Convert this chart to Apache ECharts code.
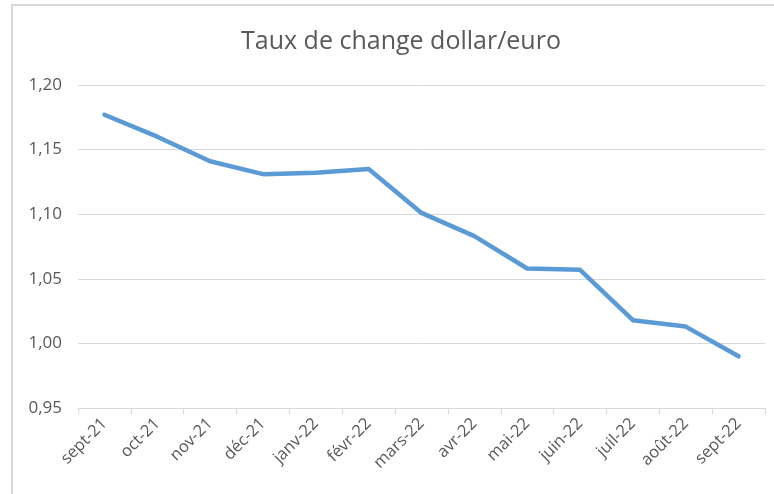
<!DOCTYPE html>
<html>
<head>
<meta charset="utf-8">
<script src="https://cdn.jsdelivr.net/npm/echarts@6/dist/echarts.min.js"></script>
<style>
  html, body { margin: 0; padding: 0; background: #fff; }
  #chart { width: 774px; height: 494px; }
  .frame { position: absolute; left: 11px; top: 4px; right: 0; bottom: 0; border-left: 2px solid #d9d9d9; border-top: 2px solid #d9d9d9; pointer-events: none; }
</style>
</head>
<body>
<div id="chart"></div>
<div class="frame"></div>
<script>
// mois (sept 2021 -> sept 2022)
const months = ['sept-21', 'oct-21', 'nov-21', 'déc-21', 'janv-22', 'févr-22', 'mars-22',
                'avr-22', 'mai-22', 'juin-22', 'juil-22', 'août-22', 'sept-22'];
// taux de change
const rates = [1.177, 1.160, 1.141, 1.131, 1.132, 1.135, 1.101, 1.083, 1.058, 1.057, 1.018, 1.013, 0.990];

const myChart = echarts.init(document.getElementById('chart'));
const textColor = '#595959';

myChart.setOption({
    animation: false,
    title: {
        text: 'Taux de change dollar/euro',
        left: 396,
        top: 24,
        textAlign: 'center',
        textStyle: { fontFamily: 'Open Sans', fontSize: 25, fontWeight: 'normal', color: textColor }
    },
    grid: { left: 78, right: 9, top: 85, bottom: 86 },
    xAxis: {
        type: 'category',
        data: months,
        boundaryGap: true,
        axisLine: { lineStyle: { color: '#d9d9d9', width: 1 } },
        axisTick: { show: true, length: 6, lineStyle: { color: '#d9d9d9' } },
        axisLabel: { rotate: 45, color: textColor, fontFamily: 'Open Sans', fontSize: 16.5, margin: 13, interval: 0 }
    },
    yAxis: {
        type: 'value',
        min: 0.95,
        max: 1.20,
        interval: 0.05,
        axisLine: { show: false },
        axisTick: { show: false },
        splitLine: { lineStyle: { color: '#d9d9d9', width: 1 } },
        axisLabel: {
            color: textColor, fontFamily: 'Open Sans', fontSize: 17, margin: 16,
            formatter: v => v.toFixed(2).replace('.', ',')
        }
    },
    series: [{
        type: 'line',
        data: rates,
        symbol: 'none',
        lineStyle: { color: '#5b9bd5', width: 4.5, cap: 'round', join: 'round' }
    }]
});
</script>
</body>
</html>
